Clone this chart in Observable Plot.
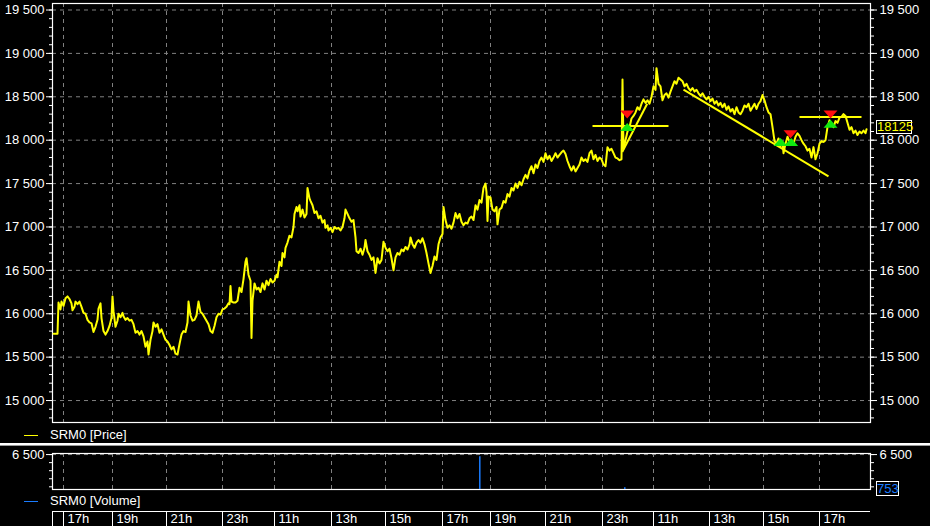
<!DOCTYPE html>
<html><head><meta charset="utf-8">
<script src="https://cdn.jsdelivr.net/npm/d3@7"></script>
<script src="https://cdn.jsdelivr.net/npm/@observablehq/plot@0.6"></script>
<style>
html,body{margin:0;padding:0;background:#000;}
#root{position:relative;width:930px;height:526px;overflow:hidden;background:#000;color:#fff;
  font-family:"Liberation Sans Narrow","Arial Narrow","Liberation Sans",Arial,sans-serif;font-size:13px;}
#root svg{position:absolute;left:0;overflow:visible;}
.abs{position:absolute;}
.leg{position:absolute;left:50px;line-height:13px;white-space:nowrap;}
.swatch{position:absolute;left:24px;width:14px;height:1px;}
.vbox{position:absolute;border:1px solid #fff;text-align:center;line-height:12px;box-sizing:border-box;}
</style></head>
<body><div id="root"></div>
<script>
// ---------------- data ----------------
const priceBar = [1,5,6,8,9,11,13,15,17,19,20,22,23,25,27,29,31,33,35,37,39,41,43,45,46,48,49,51,53,55,57,59,60,61,63,65,66,68,70,71,73,75,77,79,81,83,85,87,89,91,93,95,96,98,100,101,103,105,107,109,111,113,115,117,119,121,123,125,127,129,131,133,135,136,138,140,142,144,146,148,150,152,154,156,158,160,162,164,166,168,170,172,174,176,177,178,179,181,183,185,187,189,191,193,194,196,198,199,200,202,204,206,208,210,212,214,216,218,220,222,224,225,227,229,230,232,233,235,237,239,241,242,244,245,247,248,250,252,254,255,257,258,260,262,264,266,268,270,272,273,275,276,278,280,282,284,286,288,290,292,293,295,297,299,301,303,304,306,308,310,312,313,315,317,319,321,323,325,327,329,331,333,335,337,339,341,343,345,347,349,351,353,355,357,358,360,362,364,366,368,370,372,374,376,378,380,382,384,386,388,390,391,393,395,397,399,401,403,405,407,409,411,413,415,417,419,421,423,425,427,429,431,433,434,435,436,438,440,442,444,445,447,449,451,453,455,457,459,461,463,465,467,469,471,473,475,477,479,481,483,485,487,489,491,493,495,497,499,501,503,505,507,509,511,513,515,517,519,521,523,525,527,529,531,533,535,537,539,541,543,545,547,549,551,553,555,557,559,561,563,565,567,569,570,571,573,575,577,579,581,583,585,587,589,591,593,595,597,599,601,603,604,606,608,610,612,614,616,618,620,622,624,626,628,630,632,634,636,638,640,642,644,646,648,650,652,654,656,658,660,662,664,666,668,670,672,674,676,678,680,682,684,686,688,690,692,694,696,698,700,702,704,706,708,710,712,714,716,718,720,722,724,726,728,730,731,733,735,737,739,741,743,745,747,749,751,753,755,757,759,761,763,765,767,769,771,773,775,777,779,781,783,785,787,789,791,793,795,797,799,801,803,805,807,809,811,813,814];
const priceValue = [15770,15770,16130,16050,16140,16090,16180,16200,16170,16120,16040,16080,16140,16110,16140,16080,16010,16000,15930,15900,15890,15790,15850,15930,16060,16120,15950,15800,15760,15800,15860,15950,16200,16030,15850,15920,16000,15960,16010,15970,15930,15950,15920,15930,15880,15780,15800,15760,15800,15740,15620,15680,15530,15700,15800,15900,15850,15880,15780,15820,15760,15700,15680,15640,15590,15620,15540,15530,15650,15760,15800,15790,15900,16140,15980,15920,15930,15980,16140,16020,16000,15960,15920,15880,15800,15780,15860,15960,16000,15990,16050,16060,16080,16120,16110,16320,16140,16130,16130,16150,16300,16250,16400,16600,16640,16450,16380,15720,16150,16350,16280,16300,16250,16350,16280,16380,16330,16400,16360,16380,16450,16420,16600,16550,16700,16650,16760,16820,16900,16880,17000,17150,17230,17180,17250,17120,17200,17110,17150,17450,17330,17300,17250,17160,17180,17100,17130,17050,17080,16990,17020,16960,16990,16940,17000,16980,16990,16960,17000,17100,17200,17150,17100,17060,17080,16880,16720,16700,16750,16680,16760,16850,16720,16680,16620,16650,16470,16640,16580,16620,16830,16760,16720,16750,16640,16500,16650,16700,16680,16740,16720,16770,16740,16800,16880,16800,16760,16820,16850,16820,16870,16800,16700,16580,16470,16550,16660,16620,16800,16880,16920,17230,17080,16990,17020,16980,17050,17160,17100,17150,17060,17020,17050,17040,17100,17120,17080,17250,17200,17310,17280,17450,17500,17400,17070,17350,17340,17200,17180,17230,17030,17200,17220,17300,17280,17380,17350,17450,17420,17500,17450,17520,17480,17550,17600,17560,17650,17700,17620,17720,17680,17760,17800,17750,17850,17780,17820,17760,17800,17850,17800,17830,17860,17880,17840,17760,17700,17650,17700,17640,17680,17720,17800,17760,17780,17750,17850,17880,17780,17830,17760,17800,17780,17720,17700,17920,17880,17900,17850,17800,17790,17770,17780,18700,17900,18000,18100,18150,18250,18280,18320,18380,18350,18420,18470,18430,18460,18420,18500,18620,18580,18830,18650,18620,18460,18520,18540,18490,18560,18620,18680,18650,18720,18700,18680,18620,18650,18600,18570,18600,18560,18580,18540,18510,18540,18500,18470,18500,18450,18480,18420,18450,18400,18430,18380,18420,18350,18390,18330,18360,18300,18380,18320,18300,18340,18400,18380,18420,18340,18380,18420,18360,18420,18450,18520,18460,18380,18320,18300,18150,17990,17960,18020,17930,17980,17850,17960,18040,17980,18000,17960,18040,18080,18050,18000,17960,17930,17880,17900,17800,17920,17780,17850,17960,17990,17980,18000,18150,18230,18180,18150,18220,18200,18260,18270,18300,18280,18200,18120,18150,18080,18110,18060,18100,18080,18110,18080,18125];

// drawn trend lines (bar / price)
const trendBar1 = [540, 569.7, 631, 747];
const trendVal1 = [18163, 17863, 18582, 18266];
const trendBar2 = [616, 594.7, 776, 809];
const trendVal2 = [18163, 18420, 17584, 18266];

// signal markers
const buyBar = [574.7, 728, 738.7, 778];
const buyValue = [18151, 17979, 17979, 18190];
const sellBar = [574.7, 738, 778];
const sellValue = [18297, 18067, 18297];

// volume
const volBar = [427.3, 572.3];
const volValue = [6100, 320];
const lastVolume = 753;
const lastPrice = 18125;

// axes
const hourTickBar = [11, 60, 114, 170, 222, 279, 333, 390, 438, 493, 550, 601, 657, 711, 767];
const hourTickLabel = ["17h","19h","21h","23h","11h","13h","15h","17h","19h","21h","23h","11h","13h","15h","17h"];
const priceMajor = [15000, 15500, 16000, 16500, 17000, 17500, 18000, 18500, 19000, 19500];
const priceMinor = d3.range(14800, 19600, 100);
const volMajor = [6500];
const volMinor = [500, 2000, 3500, 5000, 6500];

// ---------------- build ----------------
const FONT = '"Liberation Sans Narrow","Arial Narrow","Liberation Sans",Arial,sans-serif';
const fmt = d => d3.format(",")(d).replace(/,/g, " ");
const price = priceBar.map((b, i) => ({bar: b, value: priceValue[i]}));
const trends = trendBar1.map((b, i) => ({x1: b, y1: trendVal1[i], x2: trendBar2[i], y2: trendVal2[i]}));
const buys = buyBar.map((b, i) => ({bar: b, value: buyValue[i]}));
const sells = sellBar.map((b, i) => ({bar: b, value: sellValue[i]}));
const vols = volBar.map((b, i) => ({bar: b, value: volValue[i]}));
const hours = hourTickBar.map((b, i) => ({bar: b, label: hourTickLabel[i]}));

const flatUp = {draw(ctx){ ctx.moveTo(0,-4); ctx.lineTo(7,4); ctx.lineTo(-7,4); ctx.closePath(); }};
const flatDown = {draw(ctx){ ctx.moveTo(0,4); ctx.lineTo(7,-4); ctx.lineTo(-7,-4); ctx.closePath(); }};

const GRID = {stroke: "#808080", strokeOpacity: 1, strokeDasharray: "4,4", strokeWidth: 1};
const baseStyle = {background: "#000", color: "#fff", fontFamily: FONT, fontSize: "13px"};
const XDOM = [0, 818];

const root = document.getElementById("root");

const main = Plot.plot({
  width: 930, height: 440,
  marginLeft: 52, marginRight: 60, marginTop: 3, marginBottom: 18,
  style: baseStyle,
  x: {domain: XDOM, axis: null},
  y: {domain: [14747, 19575], axis: null, label: null},
  marks: [
    Plot.gridX(hourTickBar, GRID),
    Plot.gridY(priceMajor, GRID),
    Plot.frame({stroke: "#fff", strokeWidth: 1.2}),
    Plot.axisY(priceMinor, {anchor: "left", tickSize: 3, tickFormat: () => "", label: null, stroke: "#fff"}),
    Plot.axisY(priceMajor, {anchor: "left", tickSize: 6, tickPadding: 2, tickFormat: fmt, label: null, stroke: "#fff", fill: "#fff"}),
    Plot.axisY(priceMinor, {anchor: "right", tickSize: 3, tickFormat: () => "", label: null, stroke: "#fff"}),
    Plot.axisY(priceMajor, {anchor: "right", tickSize: 6, tickPadding: 3, tickFormat: fmt, label: null, stroke: "#fff", fill: "#fff"}),
    Plot.line(price, {x: "bar", y: "value", stroke: "#ffff00", strokeWidth: 2}),
    Plot.link(trends, {x1: "x1", y1: "y1", x2: "x2", y2: "y2", stroke: "#ffff00", strokeWidth: 2}),
    Plot.dot(sells, {x: "bar", y: "value", symbol: flatDown, fill: "#ff1010", stroke: "none"}),
    Plot.dot(buys, {x: "bar", y: "value", symbol: flatUp, fill: "#10e810", stroke: "none"})
  ]
});
main.style.top = "0px";
root.appendChild(main);

// last price box
const py = main.scale("y").apply(lastPrice);
const pb = document.createElement("div");
pb.className = "vbox";
pb.style.cssText = `left:876px;top:${Math.round(py - 9)}px;width:36px;height:14px;color:#ffff00;`;
pb.textContent = String(lastPrice);
root.appendChild(pb);

// legends & separator
root.insertAdjacentHTML("beforeend", `
  <div class="swatch" style="top:435px;background:#ffff00"></div>
  <div class="leg" style="top:428px">SRM0 [Price]</div>
  <div class="abs" style="left:0;top:443px;width:930px;height:2px;background:#fff"></div>
  <div class="abs" style="left:0;top:445px;width:930px;height:1px;background:#9a9a9a"></div>
  <div class="swatch" style="top:501px;background:#1a7cff"></div>
  <div class="leg" style="top:494px">SRM0 [Volume]</div>
`);

const vol = Plot.plot({
  width: 930, height: 48,
  marginLeft: 52, marginRight: 60, marginTop: 7, marginBottom: 5,
  style: baseStyle,
  x: {domain: XDOM, axis: null},
  y: {domain: [0, 6700], axis: null, label: null},
  marks: [
    Plot.gridX(hourTickBar, GRID),
    Plot.gridY(volMajor, GRID),
    Plot.frame({stroke: "#fff", strokeWidth: 1.2}),
    Plot.axisY(volMinor, {anchor: "left", tickSize: 3, tickFormat: () => "", label: null, stroke: "#fff"}),
    Plot.axisY(volMajor, {anchor: "left", tickSize: 6, tickPadding: 2, tickFormat: fmt, label: null, stroke: "#fff", fill: "#fff"}),
    Plot.axisY(volMinor, {anchor: "right", tickSize: 3, tickFormat: () => "", label: null, stroke: "#fff"}),
    Plot.axisY(volMajor, {anchor: "right", tickSize: 6, tickPadding: 3, tickFormat: fmt, label: null, stroke: "#fff", fill: "#fff"}),
    Plot.ruleX(vols, {x: "bar", y: "value", stroke: "#1a7cff", strokeWidth: 1.5})
  ]
});
vol.style.top = "446px";
root.appendChild(vol);

const vy = vol.scale("y").apply(lastVolume) + 446;
const vb = document.createElement("div");
vb.className = "vbox";
vb.style.cssText = `left:876px;top:${Math.round(vy - 4)}px;width:23px;height:15px;color:#1a7cff;line-height:13px;`;
vb.textContent = String(lastVolume);
root.appendChild(vb);

const time = Plot.plot({
  width: 930, height: 16,
  marginLeft: 52, marginRight: 60, marginTop: 1, marginBottom: 0,
  style: baseStyle,
  x: {domain: XDOM, axis: null},
  y: {domain: [0, 1], axis: null},
  marks: [
    Plot.ruleY([1], {x1: XDOM[0], x2: XDOM[1], stroke: "#fff"}),
    Plot.ruleX([XDOM[0]], {stroke: "#fff"}),
    Plot.ruleX(hourTickBar, {stroke: "#fff"}),
    Plot.text(hours, {x: "bar", y: 0.5, text: "label", dx: 4, textAnchor: "start", fill: "#fff"})
  ]
});
time.style.top = "510px";
root.appendChild(time);
</script>
</body></html>
